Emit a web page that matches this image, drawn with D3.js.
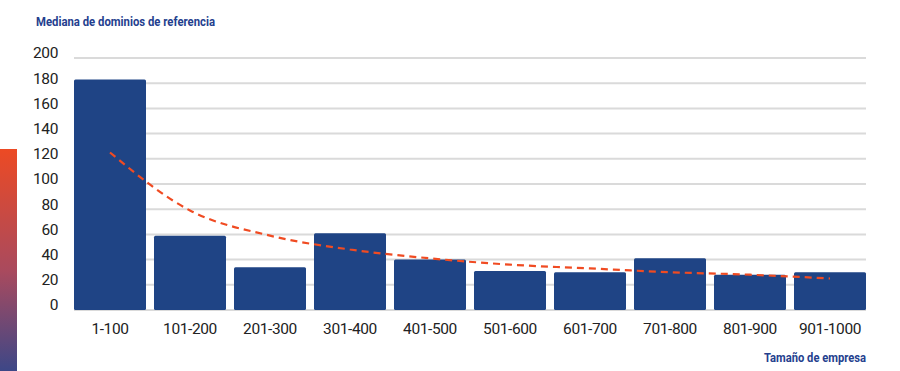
<!DOCTYPE html>
<html>
<head>
<meta charset="utf-8">
<script src="https://cdn.jsdelivr.net/npm/d3@7"></script>
<style>
  body { margin: 0; background: #fff; }
  svg { display: block; font-family: Roboto, "Noto Sans", sans-serif; }
</style>
</head>
<body>
<div id="chart"></div>
<script>
// Company size bands and the median referring domains per band
const categories = ["1-100", "101-200", "201-300", "301-400", "401-500", "501-600", "601-700", "701-800", "801-900", "901-1000"];
const medians = [183, 59, 34, 61, 40, 31, 30, 41, 28, 30];
// Dashed trend line at each band centre
const trend = [125, 79, 59, 48, 41, 36, 33, 30, 28, 25];
const yTicks = [0, 20, 40, 60, 80, 100, 120, 140, 160, 180, 200];

const width = 900;
const height = 371;
const margin = { top: 58, right: 34, bottom: 61, left: 74 };

const svg = d3.select("#chart")
    .append("svg")
    .attr("width", width)
    .attr("height", height);

// Gradient strip on the left edge
const defs = svg.append("defs");
const grad = defs.append("linearGradient")
    .attr("id", "edge")
    .attr("x1", 0).attr("y1", 0).attr("x2", 0).attr("y2", 1);
grad.append("stop").attr("offset", "0%").attr("stop-color", "#ec4a24");
grad.append("stop").attr("offset", "55%").attr("stop-color", "#a94a5e");
grad.append("stop").attr("offset", "100%").attr("stop-color", "#3d4787");
svg.append("rect")
    .attr("x", 0).attr("y", 149)
    .attr("width", 17).attr("height", height - 149)
    .attr("fill", "url(#edge)");

const x = d3.scaleBand()
    .domain(categories)
    .range([margin.left, width - margin.right])
    .paddingInner(0.1)
    .paddingOuter(0);

const y = d3.scaleLinear()
    .domain([0, 200])
    .range([height - margin.bottom, margin.top]);

// Gridlines
svg.append("g")
    .selectAll("line")
    .data(yTicks)
    .enter()
    .append("line")
    .attr("x1", margin.left)
    .attr("x2", width - margin.right)
    .attr("y1", d => y(d))
    .attr("y2", d => y(d))
    .attr("stroke", "#dadada")
    .attr("stroke-width", 2);

// Y tick labels (sit a few px above their gridline)
svg.append("g")
    .selectAll("text")
    .data(yTicks)
    .enter()
    .append("text")
    .attr("x", 58)
    .attr("y", d => y(d) - 5)
    .attr("dy", "0.35em")
    .attr("text-anchor", "end")
    .attr("fill", "#222")
    .style("font-size", "15.5px")
    .style("letter-spacing", "-0.4px")
    .text(d => d);

// Bars
svg.append("g")
    .selectAll("rect")
    .data(medians)
    .enter()
    .append("rect")
    .attr("x", (d, i) => x(categories[i]))
    .attr("y", d => y(d))
    .attr("width", x.bandwidth())
    .attr("height", d => y(0) - y(d))
    .attr("rx", 1.5)
    .attr("fill", "#1f4485");

// X labels
svg.append("g")
    .selectAll("text")
    .data(categories)
    .enter()
    .append("text")
    .attr("x", d => x(d) + x.bandwidth() / 2)
    .attr("y", 329)
    .attr("dy", "0.35em")
    .attr("text-anchor", "middle")
    .attr("fill", "#222")
    .style("font-size", "15.5px")
    .style("letter-spacing", "-0.4px")
    .text(d => d);

// Trend line
const line = d3.line()
    .x((d, i) => x(categories[i]) + x.bandwidth() / 2)
    .y(d => y(d))
    .curve(d3.curveMonotoneX);

svg.append("path")
    .datum(trend)
    .attr("d", line)
    .attr("fill", "none")
    .attr("stroke", "#f04b22")
    .attr("stroke-width", 2.2)
    .attr("stroke-dasharray", "7,5");

// Titles
svg.append("text")
    .attr("x", 36)
    .attr("y", 26)
    .attr("fill", "#24408e")
    .style("font-size", "13px")
    .style("font-weight", "bold")
    .attr("textLength", 179)
    .attr("lengthAdjust", "spacingAndGlyphs")
    .text("Mediana de dominios de referencia");

svg.append("text")
    .attr("x", 764)
    .attr("y", 362)
    .attr("fill", "#24408e")
    .style("font-size", "13px")
    .style("font-weight", "bold")
    .attr("textLength", 102)
    .attr("lengthAdjust", "spacingAndGlyphs")
    .text("Tamaño de empresa");
</script>
</body>
</html>
